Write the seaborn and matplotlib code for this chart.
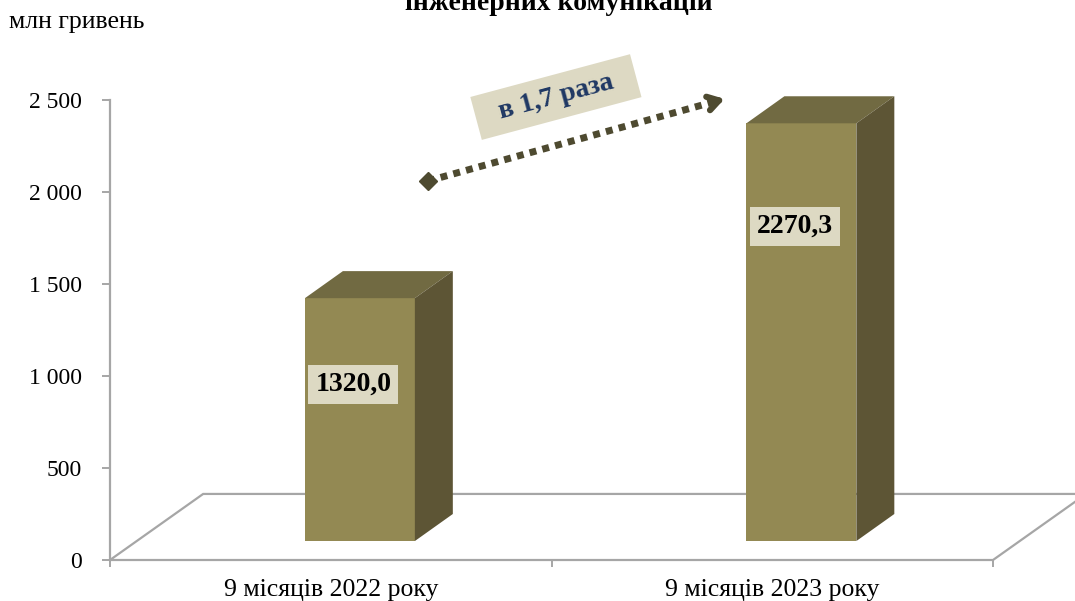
import matplotlib
matplotlib.use("Agg")
import matplotlib.pyplot as plt
from matplotlib.patches import Polygon
import numpy as np
import pandas as pd
import seaborn as sns

# chart data
periods = ["9 місяців 2022 року", "9 місяців 2023 року"]
values = [1320.0, 2270.3]
value_labels = ["1320,0", "2270,3"]
y_ticks = [0, 500, 1000, 1500, 2000, 2500]
growth_text = "в 1,7 раза"

# colours
front_col = "#938953"
top_col = "#716a42"
side_col = "#5d5535"
box_col = "#ddd9c3"
grid_col = "#a6a6a6"
arrow_col = "#4e4a30"

sns.set_style("white")
plt.rcParams["font.family"] = ["Liberation Serif", "DejaVu Serif"]
plt.rcParams["text.color"] = "black"
plt.rcParams["xtick.labelcolor"] = "black"
plt.rcParams["ytick.labelcolor"] = "black"

fig = plt.figure(figsize=(10.75, 6.01), dpi=100)
ax = fig.add_axes([110 / 1075, 41 / 601, 965 / 1075, 460 / 601])
ax.set_xlim(-0.5, -0.5 + 965 / 441.5)
ax.set_ylim(0, 2500)

# pseudo-3d geometry (data units)
bar_w = 0.249
bar_shift = 0.066
base = 103
dx, dy = 0.086, 147
floor_dx, floor_dy = 0.211, 359

# floor
floor = Polygon([(-0.5, 0), (1.5, 0), (1.5 + floor_dx, floor_dy), (-0.5 + floor_dx, floor_dy)],
                closed=True, facecolor="white", edgecolor=grid_col, lw=1.6, zorder=1, clip_on=False)
ax.add_patch(floor)

# front faces of the bars
df = pd.DataFrame({"pos": np.arange(len(values)) + bar_shift, "value": values})
sns.barplot(data=df, x="pos", y="value", native_scale=True, width=bar_w,
            color=front_col, saturation=1, bottom=base, ax=ax, zorder=3, linewidth=0)

# top and side faces
for i, v in enumerate(values):
    c = i + bar_shift
    x0, x1 = c - bar_w / 2, c + bar_w / 2
    y0, y1 = base, base + v
    top = Polygon([(x0, y1), (x1, y1), (x1 + dx, y1 + dy), (x0 + dx, y1 + dy)],
                  facecolor=top_col, edgecolor="none", zorder=3, clip_on=False)
    side = Polygon([(x1, y0), (x1 + dx, y0 + dy), (x1 + dx, y1 + dy), (x1, y1)],
                   facecolor=side_col, edgecolor="none", zorder=3, clip_on=False)
    ax.add_patch(top)
    ax.add_patch(side)

# value labels
label_drop = [470, 560]
for i, v in enumerate(values):
    ax.text(i + bar_shift - 0.015, base + v - label_drop[i], value_labels[i],
            ha="center", va="center", fontsize=20, fontweight="bold", color="black", zorder=5,
            bbox=dict(boxstyle="square,pad=0.25", facecolor=box_col, edgecolor="none"))

# growth arrow
start = (0.22, 2060)
end = (0.898, 2510)
ax.plot([start[0], end[0] - 0.02], [start[1], end[1] - 13], color=arrow_col, lw=5,
        linestyle=(0, (1, 0.9)), solid_capstyle="butt", dash_capstyle="butt", zorder=4, clip_on=False)
ax.plot([start[0]], [start[1]], marker="D", ms=9, color=arrow_col, zorder=4, clip_on=False)
ax.annotate("", xy=end, xytext=(end[0] - 0.03, end[1] - 20),
            arrowprops=dict(arrowstyle="->,head_length=0.8,head_width=0.5", color=arrow_col, lw=4.5),
            zorder=4, annotation_clip=False)
ax.text(0.51, 2516, "  " + growth_text + "  ", rotation=15, rotation_mode="anchor",
        ha="center", va="center", fontsize=20, fontweight="bold", color="#1f3864", zorder=5,
        bbox=dict(boxstyle="square,pad=0.35", facecolor=box_col, edgecolor="none"))

# axes styling
sns.despine(ax=ax, top=True, right=True, bottom=True, left=False)
ax.spines["left"].set_color(grid_col)
ax.spines["left"].set_linewidth(1.6)
ax.spines["left"].set_bounds(0, 2500)
ax.set_yticks(y_ticks)
ax.set_yticklabels([f"{t:,}".replace(",", " ") for t in y_ticks])
ax.tick_params(axis="y", which="major", left=True, length=6, width=1.4, color=grid_col,
               pad=14, labelsize=17, labelcolor="black")
ax.set_xticks([-0.5, 0.5, 1.5])
ax.set_xticklabels([])
ax.set_xticks([0, 1], minor=True)
ax.set_xticklabels(periods, minor=True)
ax.tick_params(axis="x", which="major", bottom=True, length=5, width=1.4, color=grid_col)
ax.tick_params(axis="x", which="minor", bottom=False, length=0, pad=14, labelsize=18.5,
               labelcolor="black")
ax.set_xlabel("")
ax.set_ylabel("")
ax.grid(False)

fig.text(0.008, 1 - 22 / 601, "млн гривень", ha="left", va="center", fontsize=18.5)
fig.text(0.52, 1 - 10 / 601, "інженерних комунікацій", ha="center", va="baseline",
         fontsize=20, fontweight="bold")

fig.savefig("out.png", dpi=100)
